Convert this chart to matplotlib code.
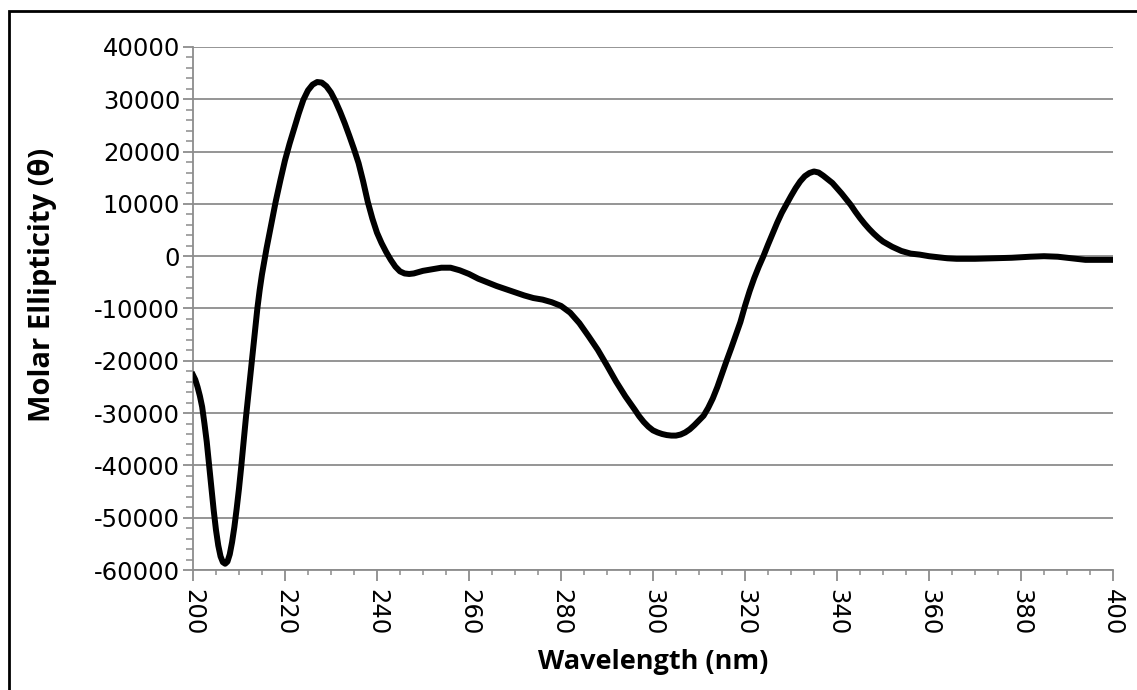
import matplotlib
matplotlib.use('AGG')
import matplotlib.pyplot as plt
from matplotlib.patches import Rectangle
from matplotlib.ticker import MultipleLocator

plt.rcParams['axes.unicode_minus'] = False

# wavelength (nm) and molar ellipticity
wavelength = [200, 200.5, 201, 201.5, 202, 202.5, 203, 203.5, 204, 204.5, 205, 205.5, 206, 206.5,
              207, 207.5, 208, 208.5, 209, 209.5, 210, 210.5, 211, 211.5, 212, 212.5, 213, 213.5,
              214, 214.5, 215, 215.5, 216, 217, 218, 219, 220, 221, 222, 223, 224, 225, 226, 227,
              228, 229, 230, 231, 232, 233, 234, 235, 236, 237, 238, 239, 240, 241, 242, 243, 244,
              245, 246, 247, 248, 250, 252, 254, 256, 258, 260, 262, 264, 266, 268, 270, 272, 274,
              276, 278, 280, 282, 284, 286, 288, 290, 292, 294, 296, 297, 298, 299, 300, 301, 302,
              303, 304, 305, 306, 307, 308, 309, 310, 311, 312, 313, 314, 315, 316, 317, 318, 319,
              320, 321, 322, 323, 324, 325, 326, 327, 328, 329, 330, 331, 332, 333, 334, 335, 336,
              337, 338, 339, 340, 341, 342, 343, 344, 345, 346, 347, 348, 349, 350, 351, 352, 354,
              356, 358, 360, 362, 364, 366, 368, 370, 374, 378, 382, 385, 388, 391, 394, 397, 400]
ellipticity = [-22700, -23600, -25000, -26700, -28800, -32000, -35500, -39800, -44000, -48500,
               -52300, -55300, -57400, -58500, -58800, -58400, -57000, -54700, -51800, -48300,
               -44500, -40200, -35500, -31000, -26800, -22500, -18300, -14000, -10000, -6500,
               -3500, -1000, 1500, 6000, 10500, 14500, 18300, 21500, 24400, 27300, 29900, 31700,
               32800, 33300, 33200, 32500, 31300, 29600, 27600, 25400, 23000, 20500, 17800, 14300,
               10400, 7200, 4500, 2500, 800, -700, -2000, -2900, -3300, -3400, -3300, -2800, -2500,
               -2200, -2200, -2700, -3400, -4300, -5000, -5700, -6300, -6900, -7500, -8000, -8300,
               -8800, -9500, -10800, -12800, -15300, -17900, -20900, -24000, -26800, -29300,
               -30600, -31700, -32600, -33300, -33700, -34000, -34200, -34300, -34300, -34100,
               -33700, -33100, -32300, -31400, -30500, -29000, -27200, -25000, -22500, -20000,
               -17600, -15100, -12600, -9500, -6700, -4200, -2000, 0, 2200, 4300, 6400, 8300, 9900,
               11500, 13000, 14300, 15300, 15900, 16200, 16000, 15400, 14700, 14000, 13000, 12000,
               10900, 9800, 8500, 7300, 6200, 5200, 4300, 3500, 2800, 2300, 1800, 1000, 500, 300,
               0, -200, -400, -500, -500, -500, -400, -300, -100, 0, -100, -400, -700, -700, -700]

x_ticks = list(range(200, 401, 20))
y_ticks = list(range(-60000, 40001, 10000))

grey = '#8c8c8c'

fig = plt.figure(figsize=(11.37, 6.9), dpi=100)
ax = fig.add_axes([0.1697, 0.1739, 0.8092, 0.758])

ax.plot(wavelength, ellipticity, color='black', linewidth=4.3, solid_joinstyle='round', zorder=3)

ax.set_xlim(200, 400)
ax.set_ylim(-60000, 40000)
ax.set_xticks(x_ticks)
ax.set_yticks(y_ticks)
ax.xaxis.set_minor_locator(MultipleLocator(5))
ax.yaxis.set_minor_locator(MultipleLocator(2000))

ax.yaxis.grid(True, color=grey, linewidth=1.3)
ax.set_axisbelow(True)

for s in ['top', 'right']:
    ax.spines[s].set_visible(False)
for s in ['left', 'bottom']:
    ax.spines[s].set_color(grey)
    ax.spines[s].set_linewidth(1.3)

ax.tick_params(axis='y', which='major', length=7.2, width=1.3, color=grey, pad=2, labelsize=17.5)
ax.tick_params(axis='y', which='minor', length=5, width=1.1, color=grey)
ax.tick_params(axis='x', which='major', length=8, width=1.3, color=grey, pad=6, labelsize=17.5)
ax.tick_params(axis='x', which='minor', length=3.6, width=1.1, color=grey)
for lab in ax.get_xticklabels():
    lab.set_rotation(270)

lab_font = ['Open Sans', 'DejaVu Sans']
ax.set_xlabel('Wavelength (nm)', fontsize=19.5, fontweight='bold', family=lab_font)
ax.set_ylabel('Molar Ellipticity (θ)', fontsize=21, fontweight='bold', family=lab_font)
ax.xaxis.set_label_coords(0.5, -0.176)
ax.xaxis.label.set_va('center')
ax.yaxis.set_label_coords(-0.163, 0.545)
ax.yaxis.label.set_va('center')

# outer frame (right and bottom edges fall outside the image)
fig.patches.append(Rectangle((9 / 1137, -0.05), 1.2, 1.05 - 11 / 690, transform=fig.transFigure,
                             fill=False, edgecolor='black', linewidth=2))

plt.savefig('out.png', dpi=100)
